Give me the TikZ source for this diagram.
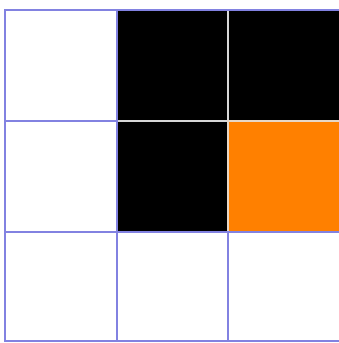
\documentclass[tikz,border=0pt]{standalone}
\begin{document}
\begin{tikzpicture}[x=1pt,y=-1pt,
  gridline/.style={draw={rgb,255:red,130;green,130;blue,225},line width=1.6pt},
  darkcell/.style={fill=black,draw={rgb,255:red,215;green,215;blue,215},line width=1.2pt},
  orangecell/.style={fill={rgb,255:red,255;green,128;blue,0},draw={rgb,255:red,230;green,215;blue,200},line width=1.2pt}]
\useasboundingbox (0,0) rectangle (338,343);
% colored cells
\path[darkcell] (117,10) rectangle (228,121);
\path[darkcell] (228,10) rectangle (340,121);
\path[darkcell] (117,121) rectangle (228,232);
\path[orangecell] (228,121) rectangle (340,232);
% white cell borders
\foreach \x/\y in {5/10, 5/121, 5/232, 117/232, 228/232}{
  \pgfmathsetmacro\xb{\x==5 ? 117 : (\x==117 ? 228 : 340)}
  \pgfmathsetmacro\yb{\y==10 ? 121 : (\y==121 ? 232 : 341)}
  \path[gridline] (\x,\y) rectangle (\xb,\yb);
}
% outer top edge
\path[gridline] (5,10) -- (340,10);
\end{tikzpicture}
\end{document}
